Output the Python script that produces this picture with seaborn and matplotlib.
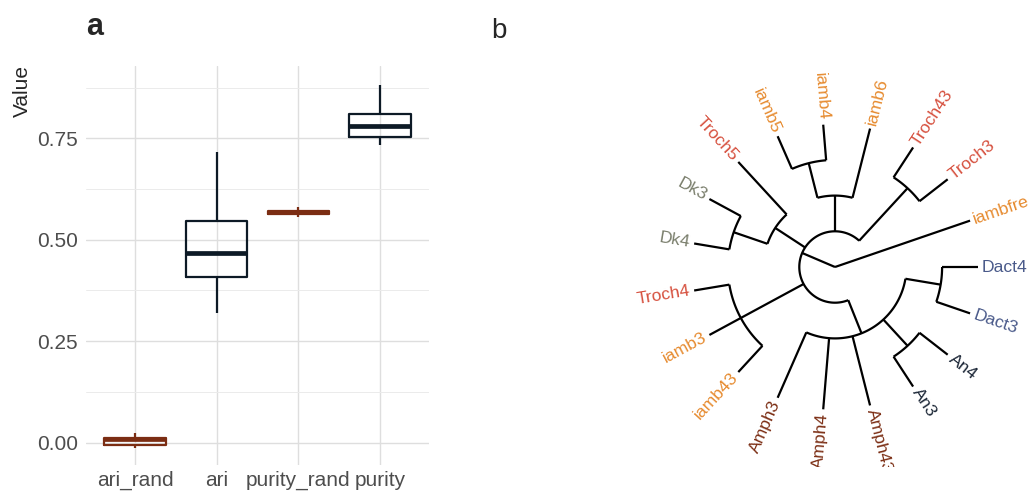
import numpy as np
import pandas as pd
import matplotlib
matplotlib.use("Agg")
import matplotlib.pyplot as plt
import seaborn as sns

# ------------------------------------------------------------
# panel a: box summaries
# ------------------------------------------------------------
metrics = ["ari_rand", "ari", "purity_rand", "purity"]
whisker_lo = [-0.014, 0.320, 0.555, 0.733]
q1 = [-0.0055, 0.409, 0.5627, 0.754]
median = [0.0095, 0.4666, 0.5676, 0.780]
q3 = [0.0115, 0.547, 0.5716, 0.810]
whisker_hi = [0.023, 0.7155, 0.5814, 0.881]
metric_colors = ["#7B2D13", "#0D1A26", "#7B2D13", "#0D1A26"]

# ------------------------------------------------------------
# panel b: tree topology, tip order follows the nesting
# ------------------------------------------------------------
clade_A = [["Troch3", "Troch43"],
           ["iamb6", ["iamb4", "iamb5"]],
           ["Troch5", ["Dk3", "Dk4"]],
           ["Troch4", "iamb3", "iamb43"],
           ["Amph3", "Amph4", "Amph43", ["An3", "An4"], ["Dact3", "Dact4"]]]
tree = ["iambfre", clade_A]
group_prefix = ["Troch", "iamb", "Dk", "Dact", "An", "Amph"]
group_colors = ["#D6503E", "#E68A2E", "#7A7E6C", "#4A5A8A", "#1C2737", "#7B2D13"]

# long table for seaborn: five values per metric give the drawn quartiles
rows = []
for i, m in enumerate(metrics):
    for v in (whisker_lo[i], q1[i], median[i], q3[i], whisker_hi[i]):
        rows.append({"metric": m, "Value": v})
df = pd.DataFrame(rows)

sns.set_style("white")
plt.rcParams["font.family"] = ["Liberation Sans", "DejaVu Sans"]

fig = plt.figure(figsize=(10.34, 4.94), dpi=100)

# ============================================================
# a. boxplot
# ============================================================
ax = fig.add_axes([86 / 1034, 29 / 494, 343 / 1034, 399 / 494])
sns.boxplot(data=df, x="metric", y="Value", hue="metric", order=metrics,
            palette=dict(zip(metrics, metric_colors)), fill=False,
            width=0.75, whis=(0, 100), linewidth=1.6, legend=False,
            showcaps=False, medianprops={"linewidth": 3.4}, ax=ax, zorder=3)
ax.set_xlim(-0.6, 3.6)
ax.set_ylim(-0.055, 0.928)
ax.set_yticks([0, 0.25, 0.5, 0.75])
ax.set_yticks([0.125, 0.375, 0.625, 0.875], minor=True)
ax.set_yticklabels(["0.00", "0.25", "0.50", "0.75"])
ax.grid(True, which="major", color="#DEDEDE", lw=1.0, zorder=0)
ax.grid(True, which="minor", axis="y", color="#EBEBEB", lw=0.7, zorder=0)
ax.set_axisbelow(True)
for s in ax.spines.values():
    s.set_visible(False)
ax.tick_params(axis="both", which="both", length=0, labelsize=15,
               labelcolor="#4D4D4D")
ax.tick_params(axis="x", pad=4)
ax.tick_params(axis="y", pad=6)
ax.set_xlabel("")
ax.set_ylabel("")
fig.text(22 / 1034, 1 - 91 / 494, "Value", rotation=90, fontsize=15,
         ha="center", va="center")
fig.text(86 / 1034, 1 - 27 / 494, "a", fontsize=22, fontweight="bold",
         ha="left", va="center")

# ============================================================
# b. circular cladogram
# ============================================================
cx, cy = 835, 267
ax2 = fig.add_axes([600 / 1034, 27 / 494, 434 / 1034, 447 / 494])
ax2.set_xlim(600 - cx, 1034 - cx)
ax2.set_ylim(cy - 467, cy - 20)
ax2.axis("off")
fig.text(491 / 1034, 1 - 31 / 494, "b", fontsize=20, ha="left", va="center")

def count(node):
    return 1 if isinstance(node, str) else sum(count(c) for c in node)
n_tips = count(tree)

tips = []
def layout(node):
    # angle in degrees, height = edges down to the deepest tip
    if isinstance(node, str):
        tips.append(node)
        return {"angle": len(tips) * 360.0 / n_tips, "height": 0, "kids": []}
    kids = [layout(c) for c in node]
    return {"angle": np.mean([k["angle"] for k in kids]),
            "height": 1 + max(k["height"] for k in kids), "kids": kids}

root = layout(tree)
depth = root["height"]
unit = 35.7

def pol(r, a):
    t = np.deg2rad(a)
    return r * np.cos(t), r * np.sin(t)

def draw(node):
    r = (depth - node["height"]) * unit
    if not node["kids"]:
        return
    angs = [k["angle"] for k in node["kids"]]
    if r > 0:
        th = np.linspace(min(angs), max(angs), 100)
        xs, ys = pol(r, th)
        ax2.plot(xs, ys, color="black", lw=1.6, solid_capstyle="butt")
    for k in node["kids"]:
        rk = (depth - k["height"]) * unit
        x0, y0 = pol(r, k["angle"])
        x1, y1 = pol(rk, k["angle"])
        ax2.plot([x0, x1], [y0, y1], color="black", lw=1.6,
                 solid_capstyle="butt")
        draw(k)

draw(root)

def tip_color(name):
    for p, c in sorted(zip(group_prefix, group_colors), key=lambda t: -len(t[0])):
        if name.startswith(p):
            return c
    return "black"

for i, name in enumerate(tips):
    a = (i + 1) * 360.0 / n_tips
    x, y = pol(depth * unit + 4, a)
    a_mod = a % 360
    if 90 < a_mod < 270:
        rot, ha = a_mod - 180, "right"
    else:
        rot, ha = (a_mod if a_mod <= 90 else a_mod - 360), "left"
    ax2.text(x, y, name, rotation=rot, rotation_mode="anchor", ha=ha,
             va="center", fontsize=12.6, color=tip_color(name), clip_on=True)

fig.savefig("out.png", dpi=100)
